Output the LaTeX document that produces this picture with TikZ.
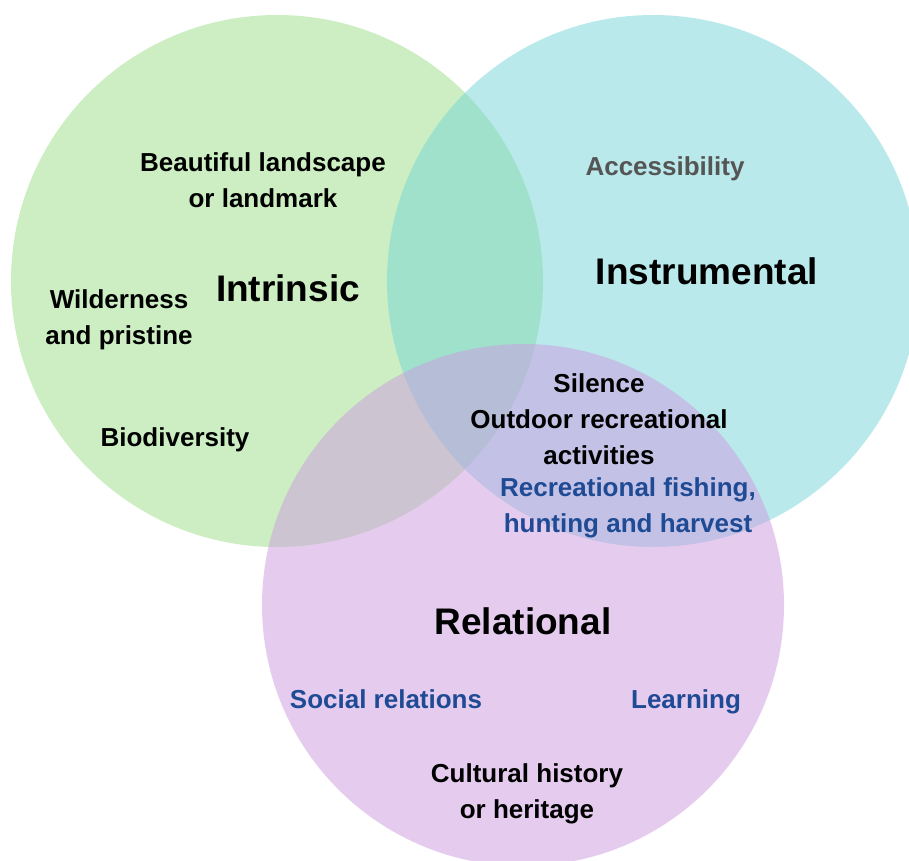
\documentclass[tikz,border=0pt]{standalone}
\usepackage{fontspec}
\setmainfont{Liberation Sans}
\definecolor{intrgreen}{RGB}{155,223,135}
\definecolor{instrcyan}{RGB}{117,213,215}
\definecolor{relpurple}{RGB}{205,155,225}
\definecolor{itemblue}{RGB}{31,74,148}
\definecolor{itemgray}{RGB}{85,85,85}
\tikzset{
  valuecircle/.style={fill opacity=0.5, draw=none},
  catlabel/.style={font=\fontsize{37}{42}\selectfont\bfseries, inner sep=0pt},
  item/.style={font=\fontsize{26}{36}\selectfont\bfseries, align=center, inner sep=0pt},
}
\begin{document}
\begin{tikzpicture}[x=1pt, y=-1pt]
  \useasboundingbox (0,0) rectangle (909,860);
  \clip (0,0) rectangle (909,860);
  \fill[white] (0,0) rectangle (909,860);
  % the three circles
  \fill[valuecircle, intrgreen] (277,281) circle (266);
  \fill[valuecircle, instrcyan] (653,281) circle (266);
  \fill[valuecircle, relpurple] (523,605) circle (261);
  % category names
  \node[catlabel] (intrinsic) at (288,288) {Intrinsic};
  \node[catlabel] (instrumental) at (707,271) {Instrumental};
  \node[catlabel] (relational) at (523,621) {Relational};
  % values
  \node[item] (landscape) at (263,180) {Beautiful landscape\\or landmark};
  \node[item, itemgray] (access) at (665,169) {Accessibility};
  \node[item] (wild) at (119,320) {Wilderness\\and pristine};
  \node[item] (biodiv) at (175,440) {Biodiversity};
  \node[item] (outdoor) at (599,419) {Silence\\Outdoor recreational\\activities};
  \node[item, itemblue] (fishing) at (628,508) {Recreational fishing,\\hunting and harvest};
  \node[item, itemblue] (social) at (386,699) {Social relations};
  \node[item, itemblue] (learning) at (686,702) {Learning};
  \node[item] (cultural) at (527,794) {Cultural history\\or heritage};
\end{tikzpicture}
\end{document}
